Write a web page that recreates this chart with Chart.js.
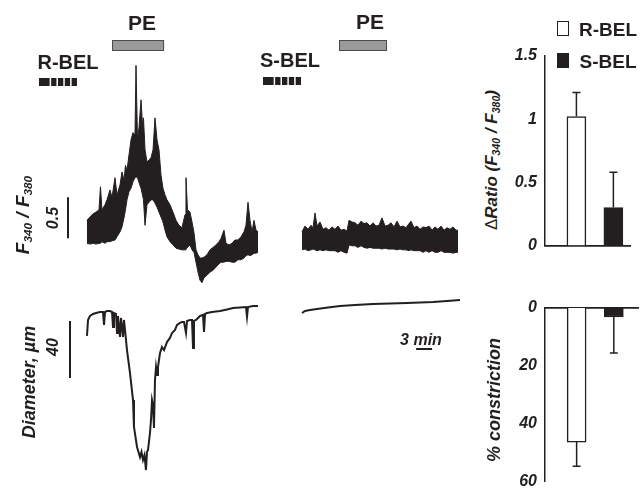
<!DOCTYPE html>
<html>
<head>
<meta charset="utf-8">
<script src="https://cdn.jsdelivr.net/npm/chart.js@4.4.1/dist/chart.umd.min.js"></script>
<style>
  html, body { margin: 0; padding: 0; background: #fff; }
  #wrap { position: relative; width: 640px; height: 492px; overflow: hidden;
          font-family: "Liberation Sans", Arial, sans-serif; color: #231f20; }
  canvas { position: absolute; }
  .lbl { position: absolute; white-space: nowrap; font-weight: bold; line-height: 1;
         transform: translate(-50%, -50%); }
  .rot { font-style: italic; transform: translate(-50%, -50%) rotate(-90deg); }
  .lbl sub { font-size: 0.62em; vertical-align: -0.25em; }
  .box { position: absolute; width: 10px; height: 13px; border: 1.5px solid #231f20; }
</style>
</head>
<body>
<div id="wrap">
  <canvas id="traces" width="470" height="492" style="left:0;top:0"></canvas>
  <canvas id="ratioBars" width="135" height="263" style="left:505px;top:0"></canvas>
  <canvas id="constrictBars" width="135" height="239" style="left:505px;top:260px"></canvas>

  <div class="lbl" style="left:142px;top:22px;font-size:21px">PE</div>
  <div class="lbl" style="left:370px;top:21px;font-size:21px">PE</div>
  <div class="lbl" style="left:68px;top:62px;font-size:20px">R-BEL</div>
  <div class="lbl" style="left:290px;top:60px;font-size:20px">S-BEL</div>

  <div class="lbl rot" style="left:23px;top:215px;font-size:19px">F<sub>340</sub> / F<sub>380</sub></div>
  <div class="lbl rot" style="left:53px;top:218px;font-size:16px">0.5</div>
  <div class="lbl rot" style="left:29px;top:382px;font-size:18px">Diameter, µm</div>
  <div class="lbl rot" style="left:53px;top:347px;font-size:16px">40</div>
  <div class="lbl" style="left:421px;top:340px;font-size:16px;font-style:italic">3 min</div>

  <div class="lbl rot" style="left:492px;top:160px;font-size:17px"><span style="font-style:normal;font-weight:normal">Δ</span>Ratio (F<sub>340</sub> / F<sub>380</sub>)</div>
  <div class="lbl rot" style="left:494px;top:400px;font-size:18px">% constriction</div>

  <div class="box" style="left:557px;top:21px;background:#fff"></div>
  <div class="lbl" style="left:608px;top:29px;font-size:19px">R-BEL</div>
  <div class="box" style="left:557px;top:53px;background:#231f20"></div>
  <div class="lbl" style="left:608px;top:61px;font-size:19px">S-BEL</div>
</div>

<script>
// R-BEL recording, Fura-2 ratio (upper / lower edge of the noisy trace), time in min
var rbelCaTime = [0, 0.56, 1.13, 1.69, 2.25, 2.53, 2.81, 3.38, 3.75, 4.31,
  4.69, 5.25, 5.63, 6.19, 6.56, 6.94, 7.22, 7.50, 7.88, 8.25,
  8.63, 9.00, 9.19, 9.47, 9.75, 10.13, 10.41, 10.59, 10.88, 11.25,
  11.63, 12.00, 12.38, 12.75, 13.13, 13.50, 13.88, 14.25, 14.63, 15.00,
  15.56, 16.13, 16.69, 17.25, 17.81, 18.38, 18.56, 18.84, 19.31, 19.69,
  20.06, 20.44, 20.81, 21.19, 21.56, 21.94, 22.50, 23.06, 23.63, 24.19,
  24.75, 25.13, 25.69, 26.06, 26.63, 27.19, 27.75, 28.31, 28.88, 29.44,
  29.81, 30.19, 30.56, 30.94, 31.31, 31.69, 32.06];
var rbelCaUpper = [1.13, 1.17, 1.21, 1.23, 1.26, 1.54, 1.26, 1.32, 1.38, 1.50,
  1.41, 1.65, 1.44, 1.56, 1.72, 1.62, 1.80, 1.74, 1.93, 2.11,
  2.20, 2.17, 3.02, 2.11, 2.26, 2.60, 2.29, 2.38, 1.99, 1.84,
  1.87, 1.89, 1.99, 2.38, 2.11, 1.99, 1.68, 1.52, 1.44, 1.38,
  1.32, 1.23, 1.13, 1.07, 1.04, 1.20, 1.65, 1.26, 1.23, 1.11,
  0.98, 0.77, 0.71, 0.67, 0.67, 0.68, 0.71, 0.77, 0.80, 0.83,
  0.87, 0.91, 1.01, 0.85, 0.83, 0.85, 0.89, 0.89, 0.93, 0.99,
  1.07, 1.35, 1.13, 0.99, 1.13, 1.01, 0.99];
var rbelCaLower = [0.85, 0.84, 0.85, 0.84, 0.85, 0.85, 0.87, 0.85, 0.87, 0.87,
  0.88, 0.89, 0.93, 0.99, 1.05, 1.16, 1.26, 1.38, 1.48, 1.52,
  1.60, 1.65, 1.66, 1.65, 1.59, 1.52, 1.44, 1.38, 1.07, 1.32,
  1.35, 1.38, 1.38, 1.34, 1.29, 1.23, 1.17, 1.11, 1.01, 0.93,
  0.87, 0.83, 0.79, 0.78, 0.77, 0.77, 0.78, 0.80, 0.83, 0.77,
  0.74, 0.62, 0.50, 0.40, 0.37, 0.43, 0.46, 0.50, 0.52, 0.56,
  0.60, 0.62, 0.62, 0.63, 0.63, 0.62, 0.62, 0.65, 0.65, 0.67,
  0.70, 0.71, 0.70, 0.71, 0.73, 0.73, 0.74];

// S-BEL recording, Fura-2 ratio
var sbelCaTime = [40.31, 40.88, 41.44, 42.00, 42.38, 42.75, 43.13, 43.69, 44.25, 44.81,
  45.38, 45.94, 46.50, 47.06, 47.63, 48.19, 48.75, 49.13, 49.69, 50.25,
  50.81, 51.38, 51.94, 52.50, 53.06, 53.63, 54.19, 54.75, 55.31, 55.88,
  56.44, 57.00, 57.56, 58.13, 58.69, 59.25, 59.81, 60.38, 60.75, 61.31,
  61.88, 62.44, 63.00, 63.56, 64.13, 64.69, 65.25, 65.81, 66.38, 66.94,
  67.50, 68.06, 68.63, 69.19, 69.56];
var sbelCaUpper = [0.99, 1.06, 1.02, 1.07, 1.04, 1.22, 1.06, 1.11, 1.02, 1.04,
  1.01, 1.05, 1.02, 1.06, 1.01, 1.02, 1.00, 1.13, 1.11, 1.10,
  1.07, 1.12, 1.09, 1.10, 1.06, 1.10, 1.06, 1.07, 1.16, 1.06,
  1.07, 1.10, 1.05, 1.12, 1.05, 1.06, 1.04, 1.09, 1.12, 1.04,
  1.06, 1.02, 1.05, 1.04, 1.06, 1.01, 1.05, 1.02, 1.06, 1.01,
  1.04, 1.02, 1.05, 1.01, 1.01];
var sbelCaLower = [0.77, 0.78, 0.76, 0.77, 0.78, 0.77, 0.76, 0.77, 0.76, 0.77,
  0.76, 0.76, 0.76, 0.74, 0.76, 0.74, 0.73, 0.83, 0.82, 0.82,
  0.80, 0.82, 0.80, 0.79, 0.80, 0.79, 0.79, 0.79, 0.78, 0.79,
  0.78, 0.78, 0.78, 0.77, 0.78, 0.77, 0.77, 0.76, 0.77, 0.76,
  0.76, 0.76, 0.74, 0.76, 0.74, 0.76, 0.74, 0.74, 0.76, 0.74,
  0.74, 0.74, 0.73, 0.74, 0.74];

// vessel diameter (µm)
var rbelDiamTime = [0, 0.19, 0.56, 1.13, 1.69, 2.44, 3.00, 3.19, 3.38, 3.75,
  4.31, 4.69, 4.88, 5.06, 5.44, 5.63, 5.81, 6.19, 6.38, 6.75,
  6.94, 7.22, 7.50, 8.06, 8.63, 8.81, 9.38, 9.94, 10.22, 10.50,
  10.78, 11.06, 11.25, 11.44, 11.81, 12.00, 12.19, 12.38, 12.56, 12.75,
  12.94, 13.13, 13.31, 13.69, 14.06, 14.44, 15.00, 15.56, 15.94, 16.50,
  16.88, 17.44, 17.81, 18.19, 18.56, 18.75, 19.31, 19.69, 19.88, 20.06,
  20.44, 20.81, 21.19, 21.75, 21.94, 22.13, 22.50, 23.44, 24.94, 26.25,
  27.38, 28.69, 29.81, 30.00, 30.19, 31.13, 32.06];
var rbelDiam = [132.5, 143.7, 146.5, 147.9, 148.6, 149.3, 149.3, 140.2, 149.3, 150.0,
  150.0, 149.3, 138.8, 148.6, 147.9, 134.6, 146.5, 131.8, 145.1, 131.8,
  143.7, 133.2, 122.6, 106.5, 87.5, 68.6, 54.6, 47.5, 51.1, 45.4,
  48.9, 38.4, 51.1, 52.5, 64.4, 73.5, 87.5, 84.0, 67.9, 101.6,
  110.7, 105.1, 110.7, 120.5, 124.7, 122.6, 128.2, 131.1, 134.6, 136.7,
  140.2, 141.6, 142.3, 142.3, 134.6, 143.0, 143.7, 143.7, 124.0, 143.0,
  143.7, 145.1, 146.5, 147.2, 135.3, 147.9, 148.6, 149.3, 150.0, 151.1,
  152.1, 152.5, 152.8, 145.8, 152.8, 153.5, 153.5];
var sbelDiamTime = [40.31, 40.88, 41.81, 43.13, 45.19, 47.44, 50.25, 53.63, 56.81, 60.00,
  62.44, 64.88, 67.50, 69.94];
var sbelDiam = [148.6, 150.0, 150.7, 151.4, 152.5, 153.5, 154.2, 154.9, 155.3, 155.6,
  156.0, 156.3, 157.0, 157.7];

// protocol (min): phenylephrine and BEL applications
var peStart = [4.7, 47.25];
var peEnd = [14.45, 56.25];
var belStart = [-9.0, 33.0];
var belEnd = [-1.88, 40.13];

// calibration bars
var ratioBar = [0.91, 1.41];
var diamBar = [103, 143];
var timeBar = [61.7, 64.7];

// summary bars
var groups = ['R-BEL', 'S-BEL'];
var ratioMean = [1.02, 0.30];
var ratioSem = [0.19, 0.28];
var constrictMean = [46.4, 3.1];
var constrictSem = [8.4, 12.5];

var ink = '#231f20';

function pts(t, v) {
  return t.map(function (x, i) { return { x: x, y: v[i] }; });
}

function trace(data, axis, fill, width) {
  return {
    data: data, yAxisID: axis, borderColor: ink, borderWidth: width,
    backgroundColor: ink, pointRadius: 0, fill: fill
  };
}

var protocolMarks = {
  id: 'protocolMarks',
  afterDatasetsDraw: function (chart) {
    var ctx = chart.ctx, x = chart.scales.x;
    var yr = chart.scales.yCa, yd = chart.scales.yDiam;
    ctx.save();
    peStart.forEach(function (s, i) {
      var x0 = x.getPixelForValue(s), x1 = x.getPixelForValue(peEnd[i]);
      ctx.fillStyle = '#9a9a9a';
      ctx.fillRect(x0, 40, x1 - x0, 11);
      ctx.strokeStyle = '#4a4a4a';
      ctx.lineWidth = 1;
      ctx.strokeRect(x0 + 0.5, 40.5, x1 - x0 - 1, 10);
    });
    belStart.forEach(function (s, i) {
      var x0 = x.getPixelForValue(s), x1 = x.getPixelForValue(belEnd[i]);
      var w = x1 - x0, top = 78 - i;
      ctx.fillStyle = ink;
      ctx.fillRect(x0, top, w, 8);
      ctx.fillStyle = '#fff';
      [0.28, 0.46, 0.64, 0.82].forEach(function (f) {
        ctx.fillRect(x0 + w * f, top, 1.5, 8);
      });
    });
    ctx.strokeStyle = ink;
    ctx.lineWidth = 2;
    ctx.beginPath();
    ctx.moveTo(68, yr.getPixelForValue(ratioBar[0]));
    ctx.lineTo(68, yr.getPixelForValue(ratioBar[1]));
    ctx.moveTo(70, yd.getPixelForValue(diamBar[0]));
    ctx.lineTo(70, yd.getPixelForValue(diamBar[1]));
    ctx.moveTo(x.getPixelForValue(timeBar[0]), 349);
    ctx.lineTo(x.getPixelForValue(timeBar[1]), 349);
    ctx.stroke();
    ctx.restore();
  }
};

new Chart(document.getElementById('traces'), {
  type: 'line',
  data: {
    datasets: [
      trace(pts(rbelCaTime, rbelCaLower), 'yCa', false, 1),
      trace(pts(rbelCaTime, rbelCaUpper), 'yCa', '-1', 1),
      trace(pts(sbelCaTime, sbelCaLower), 'yCa', false, 1),
      trace(pts(sbelCaTime, sbelCaUpper), 'yCa', '-1', 1),
      trace(pts(rbelDiamTime, rbelDiam), 'yDiam', false, 2),
      trace(pts(sbelDiamTime, sbelDiam), 'yDiam', false, 2)
    ]
  },
  options: {
    responsive: false,
    animation: false,
    devicePixelRatio: 1,
    layout: { padding: 0 },
    elements: { line: { tension: 0 } },
    plugins: { legend: { display: false }, tooltip: { enabled: false } },
    scales: {
      x: { type: 'linear', axis: 'x', display: false, min: -16.31, max: 71.81 },
      yCa: { type: 'linear', axis: 'y', display: false, min: -2.183, max: 3.817 },
      yDiam: { type: 'linear', axis: 'y', display: false, min: 23.0, max: 368.2 }
    }
  },
  plugins: [protocolMarks]
});

var errorBars = {
  id: 'errorBars',
  afterDatasetsDraw: function (chart, args, opts) {
    var ctx = chart.ctx, y = chart.scales.y;
    var data = chart.data.datasets[0].data;
    ctx.save();
    ctx.strokeStyle = ink;
    ctx.lineWidth = 1.5;
    chart.getDatasetMeta(0).data.forEach(function (bar, i) {
      var yEnd = y.getPixelForValue(data[i].y + opts.sem[i]);
      ctx.beginPath();
      ctx.moveTo(bar.x, bar.y);
      ctx.lineTo(bar.x, yEnd);
      ctx.moveTo(bar.x - 4, yEnd);
      ctx.lineTo(bar.x + 4, yEnd);
      ctx.stroke();
    });
    ctx.restore();
  }
};

var tickFont = { family: 'Liberation Sans', size: 16, style: 'italic', weight: 'bold' };

function summary(id, mean, sem, yAxis, xAxis, padding) {
  return new Chart(document.getElementById(id), {
    type: 'bar',
    data: {
      datasets: [{
        data: groups.map(function (g, i) { return { x: i + 1, y: mean[i] }; }),
        backgroundColor: ['#ffffff', ink],
        borderColor: ink,
        borderWidth: 1.5,
        barThickness: 19
      }]
    },
    options: {
      responsive: false,
      animation: false,
      devicePixelRatio: 1,
      layout: { padding: padding },
      plugins: { legend: { display: false }, tooltip: { enabled: false }, errorBars: { sem: sem } },
      scales: {
        x: Object.assign({
          type: 'linear', offset: false,
          ticks: { display: false },
          grid: { display: false, drawTicks: false },
          border: { color: ink, width: 1.8 },
          afterFit: function (s) { s.height = 0; }
        }, xAxis),
        y: Object.assign({
          grid: { display: false, drawTicks: false },
          border: { color: ink, width: 1.5 },
          afterFit: function (s) { s.width = 40; }
        }, yAxis)
      }
    },
    plugins: [errorBars]
  });
}

function plain(v) { return String(v); }

summary('ratioBars', ratioMean, ratioSem,
  { min: 0, max: 1.5, ticks: { color: ink, font: tickFont, padding: 8, stepSize: 0.5, callback: plain } },
  { min: 0.15, max: 2.45 },
  { top: 56, bottom: 10, left: 0, right: 10 });

summary('constrictBars', constrictMean, constrictSem,
  { min: 0, max: 60, reverse: true, ticks: { color: ink, font: tickFont, padding: 8, stepSize: 20, callback: plain } },
  { min: 0.15, max: 2.65, position: 'top' },
  { top: 48, bottom: 11, left: 0, right: 2 });
</script>
</body>
</html>
